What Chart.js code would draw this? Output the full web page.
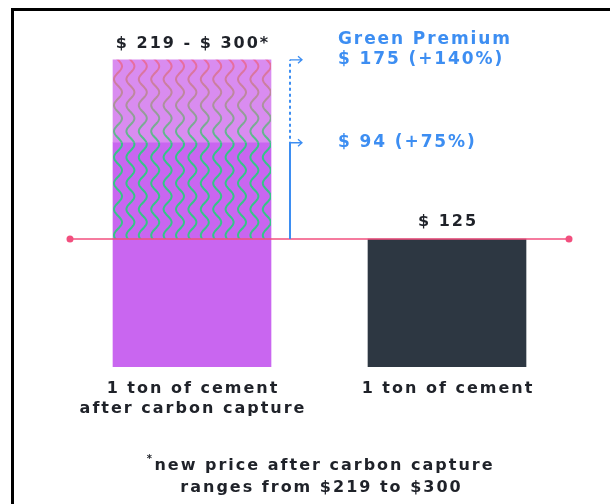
<!DOCTYPE html>
<html>
<head>
<meta charset="utf-8">
<script src="https://cdn.jsdelivr.net/npm/chart.js@4"></script>
<style>
  html, body { margin: 0; padding: 0; background: #fff; }
  #wrap { position: relative; width: 610px; height: 504px; }
  #frame {
    position: absolute; left: 11px; top: 8px; right: 0; bottom: 0;
    border-top: 3px solid #000; border-left: 3px solid #000;
    pointer-events: none;
  }
</style>
</head>
<body>
<div id="wrap">
  <canvas id="cementChart" width="610" height="504"></canvas>
  <div id="frame"></div>
</div>
<script>
  // price of one ton of cement, in dollars
  const categories = ["1 ton of cement|after carbon capture", "1 ton of cement"];
  const basePrice = [125, 125];
  const premiumLow = [94, null];
  const premiumHigh = [175, null];
  const footnote = ["new price after carbon capture", "ranges from $219 to $300"];

  const BLUE = "#3d8ef2";
  const PINK = "#f24f7e";
  const INK = "#1f2229";

  // returns the left edge of the drawn text
  function drawText(ctx, text, x, y, font, color, align, spacing) {
    ctx.save();
    ctx.font = font;
    ctx.fillStyle = color;
    ctx.textBaseline = "middle";
    ctx.letterSpacing = (spacing || 0) + "px";
    const w = ctx.measureText(text).width - (spacing || 0);
    let left = x;
    if (align === "center") left = x - w / 2;
    ctx.textAlign = "left";
    ctx.fillText(text, left, y);
    ctx.restore();
    return left;
  }

  function drawWaves(ctx, rect, stroke, phaseTop) {
    const spacing = 12.4;
    const amp = 4;
    const period = 26;
    ctx.save();
    ctx.beginPath();
    ctx.rect(rect.left, rect.top, rect.right - rect.left, rect.bottom - rect.top);
    ctx.clip();
    ctx.strokeStyle = stroke;
    ctx.lineWidth = 2;
    for (let cx = rect.left + 5; cx < rect.right + amp; cx += spacing) {
      ctx.beginPath();
      for (let y = rect.top - 2; y <= rect.bottom + 2; y += 1) {
        const x = cx + amp * Math.sin((2 * Math.PI * (y - phaseTop)) / period);
        if (y === rect.top - 2) ctx.moveTo(x, y);
        else ctx.lineTo(x, y);
      }
      ctx.stroke();
    }
    ctx.restore();
  }

  const annotations = {
    id: "annotations",
    afterDatasetsDraw(chart) {
      const { ctx, scales, chartArea } = chart;
      const y = scales.y;
      const barBase = chart.getDatasetMeta(0).data[0];
      const barLow = chart.getDatasetMeta(1).data[0];
      const barHigh = chart.getDatasetMeta(2).data[0];
      const darkBar = chart.getDatasetMeta(0).data[1];
      const left = barBase.x - barBase.width / 2;
      const right = barBase.x + barBase.width / 2;
      const phaseTop = barHigh.y;

      // wavy hatching over the two premium segments
      drawWaves(ctx, { left, right, top: barLow.y, bottom: barLow.base }, "#35c587", phaseTop);
      const grad = ctx.createLinearGradient(0, barHigh.y, 0, barHigh.base);
      grad.addColorStop(0, "#ec6aa0");
      grad.addColorStop(0.5, "#b38e9e");
      grad.addColorStop(1, "#4cc28a");
      drawWaves(ctx, { left, right, top: barHigh.y, bottom: barHigh.base }, grad, phaseTop);

      // current price line
      const yCur = y.getPixelForValue(basePrice[1]);
      const x0 = chartArea.left + 5.5;
      const x1 = chartArea.right - 5.5;
      ctx.save();
      ctx.strokeStyle = PINK;
      ctx.lineWidth = 1.5;
      ctx.beginPath();
      ctx.moveTo(x0, yCur);
      ctx.lineTo(x1, yCur);
      ctx.stroke();
      ctx.fillStyle = PINK;
      [x0, x1].forEach((px) => {
        ctx.beginPath();
        ctx.arc(px, yCur, 3.5, 0, Math.PI * 2);
        ctx.fill();
      });
      ctx.restore();

      // green premium bracket
      const bx = right + 19;
      const yLow = y.getPixelForValue(basePrice[0] + premiumLow[0]);
      const yHigh = y.getPixelForValue(basePrice[0] + premiumHigh[0]);
      ctx.save();
      ctx.strokeStyle = BLUE;
      ctx.lineWidth = 2;
      ctx.beginPath();
      ctx.moveTo(bx, yCur);
      ctx.lineTo(bx, yLow - 1);
      ctx.stroke();
      ctx.setLineDash([3, 3]);
      ctx.beginPath();
      ctx.moveTo(bx, yLow - 4);
      ctx.lineTo(bx, yHigh);
      ctx.stroke();
      ctx.setLineDash([]);
      ctx.lineWidth = 1.3;
      [yHigh, yLow].forEach((py) => {
        ctx.beginPath();
        ctx.moveTo(bx, py);
        ctx.lineTo(bx + 12, py);
        ctx.moveTo(bx + 8, py - 3.5);
        ctx.lineTo(bx + 12, py);
        ctx.lineTo(bx + 8, py + 3.5);
        ctx.stroke();
      });
      ctx.restore();

      const pct = (v) => Math.round((v / basePrice[1]) * 100);
      const tx = bx + 48;
      const blueFont = "bold 17px 'DejaVu Sans'";
      drawText(ctx, "Green Premium", tx, yHigh - 20, blueFont, BLUE, "left", 1.9);
      drawText(ctx, `$ ${premiumHigh[0]} (+${pct(premiumHigh[0])}%)`, tx, yHigh, blueFont, BLUE, "left", 1.9);
      drawText(ctx, `$ ${premiumLow[0]} (+${pct(premiumLow[0])}%)`, tx, yLow, blueFont, BLUE, "left", 1.9);

      // value labels above bars
      const labelFont = "bold 16px 'DejaVu Sans'";
      const lo = basePrice[0] + premiumLow[0];
      const hi = basePrice[0] + premiumHigh[0];
      drawText(ctx, `$ ${lo} - $ ${hi}*`, barBase.x, yHigh - 16, labelFont, INK, "center", 2);
      drawText(ctx, `$ ${basePrice[1]}`, darkBar.x, yCur - 17, labelFont, INK, "center", 2);

      // category labels
      const catFont = "bold 16px 'DejaVu Sans'";
      const yBottom = y.getPixelForValue(0);
      [barBase, darkBar].forEach((bar, i) => {
        categories[i].split("|").forEach((line, j) => {
          drawText(ctx, line, bar.x, yBottom + 22 + j * 20, catFont, INK, "center", 2);
        });
      });

      // footnote
      const cx = (chartArea.left + chartArea.right) / 2 + 1;
      const fnLeft = drawText(ctx, footnote[0], cx + 3, yBottom + 99, catFont, INK, "center", 2);
      drawText(ctx, "*", fnLeft - 5, yBottom + 92, "bold 10px 'DejaVu Sans'", INK, "center", 0);
      drawText(ctx, footnote[1], cx, yBottom + 121, catFont, INK, "center", 2);
    },
  };

  new Chart(document.getElementById("cementChart"), {
    type: "bar",
    data: {
      labels: categories,
      datasets: [
        { label: "Base price", data: basePrice, backgroundColor: ["#c966f0", "#2d3742"] },
        { label: "Premium low", data: premiumLow, backgroundColor: "#c966f0" },
        {
          label: "Premium high",
          data: premiumHigh.map((v, i) => (v == null ? null : v - premiumLow[i])),
          backgroundColor: "#d98cf0",
        },
      ],
    },
    options: {
      responsive: false,
      animation: false,
      events: [],
      layout: { padding: { left: 64.5, right: 35.5, top: 39.3, bottom: 137 } },
      datasets: { bar: { barThickness: 158, borderWidth: 0 } },
      plugins: { legend: { display: false }, tooltip: { enabled: false } },
      scales: {
        x: { stacked: true, display: false },
        y: { stacked: true, display: false, min: 0, max: 320 },
      },
    },
    plugins: [annotations],
  });
</script>
</body>
</html>
